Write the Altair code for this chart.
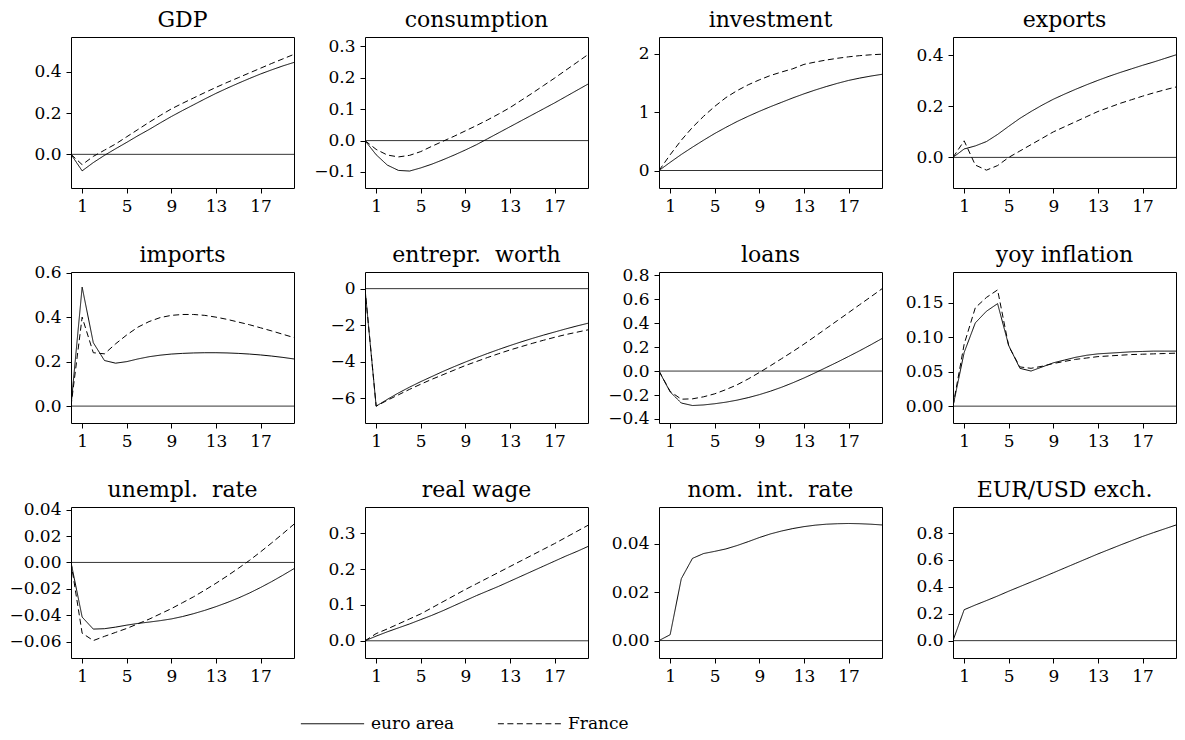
import altair as alt
import pandas as pd

periods = [0, 1, 2, 3, 4, 5, 6, 7, 8, 9, 10, 11, 12, 13, 14, 15, 16, 17, 18, 19, 20]
series_names = ["euro area", "France"]
x_ticks = [1, 5, 9, 13, 17]

gdp_ea = [0, -0.08, -0.04, -0.005, 0.027, 0.058, 0.09, 0.12, 0.152, 0.183, 0.212, 0.24, 0.268, 0.295, 0.32, 0.344, 0.367, 0.389, 0.409, 0.428, 0.445]
gdp_fr = [0, -0.05, -0.01, 0.02, 0.05, 0.085, 0.12, 0.155, 0.188, 0.22, 0.247, 0.273, 0.299, 0.324, 0.348, 0.371, 0.394, 0.417, 0.44, 0.462, 0.484]

cons_ea = [0, -0.045, -0.078, -0.095, -0.097, -0.087, -0.075, -0.061, -0.046, -0.03, -0.013, 0.006, 0.025, 0.044, 0.063, 0.082, 0.101, 0.12, 0.14, 0.16, 0.18]
cons_fr = [0, -0.028, -0.046, -0.052, -0.047, -0.035, -0.018, -0.002, 0.014, 0.031, 0.048, 0.066, 0.085, 0.105, 0.128, 0.151, 0.175, 0.199, 0.224, 0.249, 0.274]

inv_ea = [0, 0.14, 0.275, 0.4, 0.52, 0.635, 0.74, 0.84, 0.93, 1.015, 1.095, 1.17, 1.245, 1.315, 1.38, 1.44, 1.495, 1.545, 1.585, 1.62, 1.65]
inv_fr = [0, 0.27, 0.52, 0.74, 0.93, 1.1, 1.25, 1.37, 1.47, 1.555, 1.63, 1.69, 1.745, 1.82, 1.86, 1.895, 1.925, 1.95, 1.97, 1.985, 1.995]

exp_ea = [0, 0.033, 0.045, 0.062, 0.09, 0.122, 0.153, 0.18, 0.205, 0.228, 0.248, 0.267, 0.285, 0.302, 0.318, 0.333, 0.347, 0.361, 0.374, 0.388, 0.402]
exp_fr = [0, 0.065, -0.03, -0.05, -0.032, 0.0, 0.025, 0.05, 0.075, 0.1, 0.12, 0.14, 0.16, 0.18, 0.196, 0.212, 0.226, 0.24, 0.253, 0.265, 0.276]

imp_ea = [0, 0.535, 0.285, 0.205, 0.193, 0.2, 0.212, 0.222, 0.229, 0.234, 0.237, 0.239, 0.24, 0.24, 0.239, 0.237, 0.234, 0.23, 0.225, 0.219, 0.212]
imp_fr = [0, 0.4, 0.24, 0.235, 0.28, 0.32, 0.355, 0.38, 0.398, 0.408, 0.412, 0.412, 0.408, 0.4, 0.39, 0.378, 0.366, 0.352, 0.338, 0.323, 0.308]

nw_ea = [0, -6.42, -6.05, -5.7, -5.38, -5.08, -4.8, -4.52, -4.26, -4.01, -3.77, -3.54, -3.32, -3.11, -2.91, -2.72, -2.54, -2.37, -2.2, -2.04, -1.89]
nw_fr = [0, -6.42, -6.1, -5.8, -5.5, -5.22, -4.95, -4.7, -4.45, -4.2, -3.98, -3.76, -3.55, -3.35, -3.17, -2.99, -2.82, -2.66, -2.51, -2.38, -2.25]

loans_ea = [0, -0.174, -0.267, -0.288, -0.283, -0.273, -0.26, -0.243, -0.222, -0.197, -0.168, -0.135, -0.098, -0.058, -0.015, 0.03, 0.075, 0.122, 0.17, 0.22, 0.272]
loans_fr = [0, -0.17, -0.235, -0.232, -0.215, -0.19, -0.155, -0.115, -0.066, -0.012, 0.045, 0.104, 0.163, 0.225, 0.29, 0.356, 0.422, 0.488, 0.555, 0.621, 0.688]

infl_ea = [0, 0.078, 0.121, 0.138, 0.149, 0.088, 0.055, 0.051, 0.057, 0.063, 0.067, 0.071, 0.074, 0.076, 0.077, 0.078, 0.079, 0.0795, 0.08, 0.08, 0.08]
infl_fr = [0, 0.09, 0.143, 0.158, 0.169, 0.087, 0.057, 0.055, 0.058, 0.062, 0.065, 0.068, 0.07, 0.072, 0.073, 0.074, 0.075, 0.0755, 0.076, 0.0765, 0.077]

unemp_ea = [0, -0.0414, -0.0505, -0.0502, -0.049, -0.0475, -0.0462, -0.0452, -0.0441, -0.0428, -0.041, -0.0388, -0.0363, -0.0335, -0.0304, -0.027, -0.0232, -0.019, -0.0145, -0.0097, -0.0047]
unemp_fr = [0, -0.0536, -0.0592, -0.056, -0.053, -0.05, -0.0465, -0.043, -0.039, -0.035, -0.0305, -0.026, -0.021, -0.0158, -0.0103, -0.0045, 0.0015, 0.008, 0.0148, 0.0218, 0.029]

rw_ea = [0, 0.013, 0.025, 0.036, 0.047, 0.059, 0.071, 0.084, 0.098, 0.112, 0.126, 0.139, 0.152, 0.166, 0.18, 0.194, 0.208, 0.222, 0.236, 0.249, 0.263]
rw_fr = [0, 0.02, 0.033, 0.047, 0.061, 0.075, 0.092, 0.109, 0.126, 0.143, 0.159, 0.175, 0.191, 0.207, 0.223, 0.239, 0.255, 0.271, 0.288, 0.305, 0.322]

rate_ea = [0, 0.0024, 0.0255, 0.0339, 0.0359, 0.0368, 0.0378, 0.0392, 0.0408, 0.0425, 0.044, 0.0452, 0.0462, 0.047, 0.0476, 0.048, 0.0482, 0.0483, 0.0482, 0.048, 0.0477]

fx_ea = [0, 0.23, 0.265, 0.298, 0.332, 0.368, 0.402, 0.436, 0.47, 0.505, 0.54, 0.575, 0.61, 0.645, 0.678, 0.711, 0.743, 0.775, 0.804, 0.832, 0.86]

panels_spec = [
    ("GDP", gdp_ea, gdp_fr, [-0.163, 0.568], [0.0, 0.2, 0.4], ".1f"),
    ("consumption", cons_ea, cons_fr, [-0.151, 0.33], [-0.1, 0.0, 0.1, 0.2, 0.3], ".1f"),
    ("investment", inv_ea, inv_fr, [-0.3, 2.29], [0, 1, 2], "d"),
    ("exports", exp_ea, exp_fr, [-0.12, 0.472], [0.0, 0.2, 0.4], ".1f"),
    ("imports", imp_ea, imp_fr, [-0.076, 0.603], [0.0, 0.2, 0.4, 0.6], ".1f"),
    ("entrepr.\u00a0 worth", nw_ea, nw_fr, [-7.34, 0.91], [-6, -4, -2, 0], "d"),
    ("loans", loans_ea, loans_fr, [-0.434, 0.828], [-0.4, -0.2, 0.0, 0.2, 0.4, 0.6, 0.8], ".1f"),
    ("yoy inflation", infl_ea, infl_fr, [-0.0245, 0.195], [0.0, 0.05, 0.10, 0.15], ".2f"),
    ("unempl.\u00a0 rate", unemp_ea, unemp_fr, [-0.0724, 0.042], [-0.06, -0.04, -0.02, 0.0, 0.02, 0.04], ".2f"),
    ("real wage", rw_ea, rw_fr, [-0.048, 0.373], [0.0, 0.1, 0.2, 0.3], ".1f"),
    ("nom.\u00a0 int.\u00a0 rate", rate_ea, None, [-0.0072, 0.0551], [0.0, 0.02, 0.04], ".2f"),
    ("EUR/USD exch.", fx_ea, None, [-0.129, 0.994], [0.0, 0.2, 0.4, 0.6, 0.8], ".1f"),
]

FONT = "DejaVu Serif"
LABEL_SIZE = 17
PW, PH = 223, 151


def make_panel(title, ea, fr, domain, ticks, fmt, show_legend):
    rows = [{"t": t, "v": v, "s": "euro area"} for t, v in zip(periods, ea)]
    if fr is not None:
        rows += [{"t": t, "v": v, "s": "France"} for t, v in zip(periods, fr)]
    df = pd.DataFrame(rows)
    yscale = alt.Scale(domain=domain, nice=False, zero=False)
    xscale = alt.Scale(domain=[0, 20], nice=False, zero=False)
    yaxis = alt.Axis(values=ticks, title=None, format=fmt)
    xaxis = alt.Axis(values=x_ticks, title=None, format="d")
    if show_legend:
        legend = alt.Legend(orient="none", legendX=229, legendY=654, direction="horizontal",
                            title=None, symbolType="stroke", symbolSize=4000,
                            symbolStrokeWidth=1, symbolStrokeColor="black",
                            labelFont=FONT, labelFontSize=17, labelColor="black",
                            labelOffset=6, columnPadding=40)
    else:
        legend = None
    lines = alt.Chart(df).mark_line(color="black", strokeWidth=1, clip=True).encode(
        x=alt.X("t:Q", scale=xscale, axis=xaxis),
        y=alt.Y("v:Q", scale=yscale, axis=yaxis),
        strokeDash=alt.StrokeDash("s:N", scale=alt.Scale(domain=series_names, range=[[1, 0], [6, 3.5]]),
                                  legend=legend),
    )
    zero = alt.Chart(pd.DataFrame({"z": [0]})).mark_rule(color="black", strokeWidth=0.8).encode(
        y=alt.Y("z:Q", scale=yscale, axis=yaxis)
    )
    # the title sits above the axis bounds; undo the push from a top tick label
    gap = (domain[1] - max(ticks)) / (domain[1] - domain[0]) * PH
    push = max(0.0, LABEL_SIZE / 2 - gap)
    ttl = alt.TitleParams(text=title, dy=push)
    return alt.layer(zero, lines).properties(width=PW, height=PH, title=ttl)


panels = [make_panel(*spec, show_legend=(i == 0)) for i, spec in enumerate(panels_spec)]

chart = alt.concat(*panels, columns=4, spacing={"row": 84, "column": 71}, bounds="flush").properties(
    padding={"left": 0, "top": 0, "right": 0, "bottom": 0}
).resolve_scale(strokeDash="shared").configure_view(
    stroke="black", strokeWidth=1
).configure_axis(
    labelFont=FONT, labelFontSize=LABEL_SIZE, labelColor="black", tickColor="black", tickSize=5,
    domain=False, grid=False, labelPadding=5
).configure_title(
    font=FONT, fontSize=22, fontWeight="normal", color="black", offset=5, anchor="middle",
    baseline="alphabetic"
)

chart.save("out.html", embed_options={"renderer": "svg", "actions": False})
